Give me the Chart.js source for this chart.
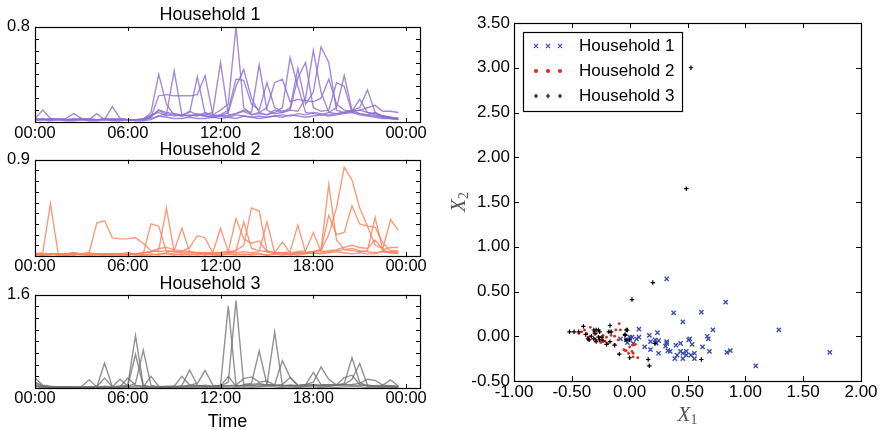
<!DOCTYPE html>
<html>
<head>
<meta charset="utf-8">
<script src="https://cdn.jsdelivr.net/npm/chart.js@4.4.1/dist/chart.umd.min.js"></script>
<style>
  html, body { margin: 0; padding: 0; background: #fff; }
  #wrap { position: relative; width: 881px; height: 430px; overflow: hidden; }
  canvas { position: absolute; }
</style>
</head>
<body>
<div id="wrap">
  <canvas id="h1" width="440" height="146" style="left:0;top:0"></canvas>
  <canvas id="h2" width="440" height="140" style="left:0;top:140px"></canvas>
  <canvas id="h3" width="440" height="158" style="left:0;top:272px"></canvas>
  <canvas id="sc" width="441" height="430" style="left:440px;top:0"></canvas>
</div>
<script>
// half-hour time slots (hours since midnight)
const hours = [0,0.5,1,1.5,2,2.5,3,3.5,4,4.5,5,5.5,6,6.5,7,7.5,8,8.5,9,9.5,10,10.5,11,11.5,
               12,12.5,13,13.5,14,14.5,15,15.5,16,16.5,17,17.5,18,18.5,19,19.5,20,20.5,21,21.5,22,22.5,23,23.5];

// Household 1 daily profiles
const h1a = [.03,.10,.03,.02,.03,.07,.03,.02,.07,.02,.13,.03,.02,.02,.02,.08,.40,.15,.06,.05,.06,.05,.08,.06,.10,.15,.80,.12,.06,.07,.06,.08,.12,.54,.30,.08,.07,.06,.08,.12,.39,.10,.07,.06,.05,.04,.03,.03];
const h1b = [.02,.02,.03,.02,.02,.02,.03,.02,.02,.03,.02,.02,.02,.02,.03,.05,.10,.06,.43,.06,.05,.07,.06,.08,.50,.06,.07,.10,.08,.48,.10,.07,.08,.10,.09,.20,.60,.25,.08,.07,.08,.10,.12,.27,.08,.05,.04,.03];
const h1c = [.03,.02,.02,.03,.02,.02,.02,.03,.02,.02,.02,.03,.02,.02,.02,.04,.22,.23,.22,.22,.22,.23,.39,.06,.05,.08,.30,.44,.20,.08,.06,.10,.08,.12,.45,.15,.25,.63,.50,.10,.08,.09,.19,.08,.06,.05,.03,.03];
const h1d = [.02,.03,.02,.02,.02,.03,.02,.02,.02,.02,.03,.02,.02,.02,.02,.06,.08,.05,.07,.06,.08,.38,.07,.05,.06,.10,.36,.35,.15,.10,.33,.12,.09,.10,.37,.50,.12,.09,.10,.33,.30,.08,.07,.06,.08,.04,.03,.02];
const h1e = [.02,.02,.02,.02,.02,.02,.02,.02,.02,.02,.02,.02,.02,.02,.02,.03,.05,.07,.05,.06,.05,.06,.05,.04,.06,.05,.07,.09,.06,.08,.12,.33,.36,.17,.19,.18,.17,.20,.36,.15,.10,.09,.10,.12,.14,.09,.09,.08];
const h1f = [.02,.02,.02,.02,.02,.02,.02,.02,.02,.02,.02,.02,.02,.02,.02,.04,.10,.08,.07,.05,.09,.06,.05,.04,.05,.04,.06,.05,.04,.05,.04,.05,.06,.05,.07,.06,.08,.07,.06,.07,.08,.09,.10,.08,.07,.05,.04,.03];
const h1g = [.01,.02,.01,.02,.01,.01,.02,.01,.01,.02,.01,.01,.02,.01,.01,.02,.05,.04,.03,.03,.04,.03,.03,.04,.03,.04,.03,.05,.04,.03,.04,.05,.04,.06,.05,.04,.05,.06,.05,.06,.07,.08,.06,.05,.04,.03,.03,.02];

// Household 2 daily profiles
const h2a = [.02,.03,.49,.02,.02,.03,.02,.02,.02,.02,.02,.02,.02,.02,.03,.04,.05,.45,.04,.03,.03,.03,.02,.02,.03,.03,.05,.10,.45,.42,.05,.03,.03,.02,.03,.03,.04,.06,.67,.15,.06,.05,.04,.05,.36,.05,.04,.04];
const h2b = [.02,.02,.02,.02,.02,.03,.02,.03,.31,.33,.17,.16,.16,.17,.12,.05,.04,.05,.04,.04,.08,.19,.17,.03,.03,.04,.03,.04,.03,.04,.32,.03,.03,.02,.03,.03,.04,.05,.20,.45,.83,.71,.45,.28,.27,.12,.05,.05];
const h2c = [.01,.02,.02,.01,.02,.01,.02,.01,.02,.02,.01,.02,.01,.02,.02,.30,.28,.04,.05,.26,.04,.03,.03,.02,.03,.04,.35,.16,.12,.14,.04,.03,.03,.04,.29,.03,.04,.06,.38,.20,.22,.47,.30,.28,.10,.07,.34,.24];
const h2d = [.02,.01,.02,.02,.01,.02,.02,.03,.02,.02,.02,.02,.03,.02,.03,.04,.07,.08,.06,.05,.04,.03,.03,.03,.26,.04,.05,.32,.07,.05,.04,.03,.13,.03,.04,.05,.22,.04,.05,.06,.08,.10,.08,.07,.15,.06,.08,.08];
const h2e = [.01,.01,.02,.01,.01,.01,.02,.01,.01,.01,.01,.01,.02,.01,.01,.01,.02,.02,.01,.02,.01,.02,.01,.02,.01,.02,.02,.01,.02,.02,.01,.02,.02,.01,.02,.03,.02,.03,.04,.05,.06,.07,.05,.04,.03,.04,.03,.03];
const h2f = [.02,.01,.01,.02,.01,.02,.01,.01,.02,.01,.02,.01,.01,.02,.01,.02,.01,.03,.02,.01,.02,.01,.02,.01,.01,.02,.01,.02,.01,.02,.01,.02,.01,.02,.01,.02,.03,.02,.03,.04,.03,.02,.03,.02,.02,.05,.03,.02];

// Household 3 daily profiles
const h3a = [.17,.05,.03,.02,.02,.02,.01,.01,.02,.43,.02,.02,.03,.58,.03,.02,.02,.01,.02,.02,.03,.02,.02,.03,.05,1.41,.05,.03,.04,.03,.05,.96,.05,.03,.02,.03,.04,.03,.03,.05,.08,.52,.10,.03,.02,.02,.02,.02];
const h3b = [.08,.03,.02,.02,.02,.01,.02,.14,.02,.03,.02,.03,.05,.90,.05,.02,.02,.02,.02,.04,.31,.05,.03,.02,.03,.10,1.50,.06,.08,.64,.06,.05,.04,.05,.04,.06,.10,.36,.15,.05,.06,.15,.42,.05,.03,.02,.03,.02];
const h3c = [.05,.02,.02,.01,.02,.01,.01,.02,.02,.17,.02,.15,.03,.08,.65,.05,.02,.02,.02,.03,.05,.08,.30,.05,.03,.20,.03,.05,.06,.08,.05,.06,.47,.18,.04,.05,.27,.06,.05,.06,.05,.06,.08,.15,.13,.05,.04,.03];
const h3d = [.03,.02,.02,.02,.02,.02,.01,.02,.02,.02,.01,.02,.17,.05,.02,.20,.03,.02,.03,.20,.05,.04,.03,.02,.03,.04,.05,.16,.19,.10,.12,.05,.06,.18,.05,.04,.06,.05,.06,.05,.18,.22,.06,.04,.04,.05,.14,.03];
const h3e = [.10,.04,.02,.02,.02,.01,.02,.02,.01,.02,.02,.03,.02,.04,.03,.02,.02,.03,.03,.02,.04,.03,.05,.03,.02,.04,.03,.05,.04,.06,.05,.04,.03,.05,.04,.06,.05,.04,.05,.04,.06,.05,.04,.05,.03,.04,.03,.02];
const h3f = [.02,.01,.01,.01,.01,.01,.01,.01,.01,.01,.01,.01,.01,.02,.01,.01,.01,.01,.02,.01,.01,.02,.01,.02,.01,.02,.01,.02,.01,.02,.03,.02,.01,.02,.01,.02,.02,.01,.02,.01,.02,.03,.02,.01,.02,.01,.02,.01];

// scatter (X1, X2) per household
const hh1X = [0.32,0.38,0.46,0.62,0.83,0.72,0.67,0.68,1.29,1.73,1.09,0.84,0.87,0.69,0.63,0.52,0.51,0.54,0.56,0.56,0.53,0.49,0.49,0.46,0.46,0.44,0.44,0.40,0.41,0.39,0.35,0.33,0.32,0.32,0.31,0.25,0.24,0.25,0.23,0.22,0.18,0.18,0.17,0.13,0.08,0.08,0.06,0.02,0.00,0.03,-0.02,-0.08,-0.03];
const hh1Y = [0.64,0.26,0.16,0.27,0.38,0.07,0.00,-0.03,0.07,-0.18,-0.33,-0.18,-0.16,-0.17,-0.12,-0.03,-0.04,-0.09,-0.19,-0.25,-0.21,-0.21,-0.17,-0.19,-0.25,-0.17,-0.08,-0.10,-0.21,-0.25,-0.17,-0.16,-0.06,-0.08,-0.11,-0.19,0.04,-0.05,-0.08,-0.04,-0.06,-0.15,0.01,-0.12,0.08,-0.01,-0.03,-0.01,-0.01,-0.08,-0.07,-0.03,-0.04];
const hh2X = [-0.415,-0.39,-0.37,-0.34,-0.34,-0.31,-0.30,-0.29,-0.26,-0.24,-0.23,-0.25,-0.21,-0.20,-0.17,-0.16,-0.13,-0.12,-0.09,-0.08,-0.10,-0.13,-0.05,-0.03,0.02,0.03,0.07,0.03,0.00,0.05,-0.19,-0.29,-0.36,-0.04,-0.01,0.03,-0.44];
const hh2Y = [0.05,0.07,0.03,0.10,0.00,0.05,-0.03,0.03,-0.01,-0.04,0.01,-0.07,-0.06,-0.01,0.05,0.01,0.00,0.07,0.14,0.07,-0.04,-0.09,-0.15,-0.16,-0.17,-0.23,-0.24,-0.10,-0.12,-0.09,-0.08,-0.04,-0.01,-0.16,-0.19,-0.19,0.03];
const hh3X = [0.53,0.49,0.20,0.02,0.62,0.17,0.16,0.00,-0.09,0.22,-0.02,-0.04,-0.52,-0.48,-0.44,-0.40,-0.38,-0.36,-0.31,-0.30,-0.29,-0.27,-0.26,-0.27,-0.26,-0.29,-0.24,-0.23,-0.20,-0.17,-0.18,-0.16,-0.13,-0.17,-0.03,-0.04,-0.03,0.00,-0.33,-0.35,-0.31];
const hh3Y = [3.00,1.65,0.60,0.41,-0.26,-0.33,-0.26,-0.24,-0.20,-0.08,0.07,0.02,0.05,0.05,0.05,0.11,0.02,-0.03,0.07,0.03,0.07,0.07,0.05,-0.01,-0.04,-0.06,-0.01,-0.05,-0.09,0.12,0.05,0.05,-0.10,-0.06,0.07,0.01,-0.04,-0.04,0.00,-0.04,-0.03];

const legendNames = ['Household 1', 'Household 2', 'Household 3'];

Chart.defaults.font.family = '"Liberation Sans", Arial, Helvetica, sans-serif';
Chart.defaults.color = '#000';

// matplotlib-like frame with inward ticks on all four sides
const boxTicks = {
  id: 'boxTicks',
  afterDraw(chart, args, opts) {
    const {ctx, chartArea: a, scales} = chart;
    const L = opts.len || 4;
    ctx.save();
    ctx.strokeStyle = '#000';
    ctx.lineWidth = 1;
    ctx.beginPath();
    scales.x.ticks.forEach(t => {
      const p = Math.round(scales.x.getPixelForValue(t.value)) + 0.5;
      ctx.moveTo(p, a.bottom); ctx.lineTo(p, a.bottom - L);
      ctx.moveTo(p, a.top); ctx.lineTo(p, a.top + L);
    });
    scales.y.ticks.forEach(t => {
      const p = Math.round(scales.y.getPixelForValue(t.value)) + 0.5;
      ctx.moveTo(a.left, p); ctx.lineTo(a.left + L, p);
      ctx.moveTo(a.right, p); ctx.lineTo(a.right - L, p);
    });
    ctx.stroke();
    ctx.lineWidth = 1.2;
    ctx.strokeRect(Math.round(a.left) + 0.5, Math.round(a.top) + 0.5, Math.round(a.width), Math.round(a.height));
    ctx.restore();
  }
};

// extra text: "Time" under bottom panel
const timeLabel = {
  id: 'timeLabel',
  afterDraw(chart) {
    const {ctx, chartArea: a} = chart;
    ctx.save();
    ctx.fillStyle = '#000';
    ctx.font = '18px "Liberation Sans", Arial, sans-serif';
    ctx.textAlign = 'center';
    ctx.textBaseline = 'alphabetic';
    ctx.fillText('Time', (a.left + a.right) / 2, 155);
    ctx.restore();
  }
};

function hhmm(v) {
  const h = Math.round(v) % 24;
  return (h < 10 ? '0' : '') + h + ':00';
}

function houseChart(id, title, days, color, yMax, yStep, titlePad, xHeight, xPad, extra) {
  return new Chart(document.getElementById(id), {
    type: 'line',
    data: {
      datasets: days.map(d => ({
        data: hours.map((h, i) => ({x: h, y: d[i]})),
        borderColor: color,
        borderWidth: 1.4,
        pointRadius: 0,
        tension: 0,
        fill: false
      }))
    },
    options: {
      responsive: false,
      animation: false,
      events: [],
      layout: {padding: {left: 0, right: 20, top: 0, bottom: 0}},
      plugins: {
        legend: {display: false},
        tooltip: {enabled: false},
        title: {display: true, text: title, color: '#000', font: {size: 18, weight: 'normal', lineHeight: 1.1}, padding: titlePad},
        boxTicks: {len: 4}
      },
      scales: {
        x: {
          type: 'linear', min: 0, max: 24.9,
          grid: {display: false, drawTicks: false}, border: {display: false},
          ticks: {stepSize: 6, includeBounds: false, autoSkip: false, maxRotation: 0, padding: xPad,
                  color: '#000', font: {size: 16.5}, callback: v => hhmm(v)},
          afterFit(s) { s.height = xHeight; s.paddingLeft = 0; s.paddingRight = 0; }
        },
        y: {
          min: 0, max: yMax,
          grid: {display: false, drawTicks: false}, border: {display: false},
          ticks: {stepSize: yStep, autoSkip: false, padding: 5, color: '#000', font: {size: 16.5},
                  callback: v => Math.abs(v - yMax) < 1e-6 ? String(yMax) : ''},
          afterFit(s) { s.width = 35; s.paddingTop = 0; s.paddingBottom = 0; }
        }
      }
    },
    plugins: [boxTicks].concat(extra || [])
  });
}

houseChart('h1', 'Household 1', [h1a, h1b, h1c, h1d, h1e, h1f, h1g], 'rgba(140,110,210,0.8)', 0.8, 0.1, {top: 5, bottom: 2}, 24, 2);
houseChart('h2', 'Household 2', [h2a, h2b, h2c, h2d, h2e, h2f], 'rgba(250,130,90,0.8)', 0.9, 0.1, {top: 0, bottom: 0}, 24, 1);
houseChart('h3', 'Household 3', [h3a, h3b, h3c, h3d, h3e, h3f], 'rgba(110,110,110,0.75)', 1.6, 0.2, {top: 2, bottom: 1}, 42, 1, [timeLabel]);

// scatter
const markers = [
  {style: 'crossRot', radius: 3, color: '#3c4fb4', width: 1.4},
  {style: 'circle', radius: 1.4, color: '#e5261f', width: 0},
  {style: 'cross', radius: 2.2, color: '#000', width: 1.2}
];

function pts(xs, ys) { return xs.map((x, i) => ({x: x, y: ys[i]})); }

function mathLabel(ctx, cx, baseY, sub) {
  ctx.font = 'italic 21px "Liberation Serif", "DejaVu Serif", serif';
  const wX = ctx.measureText('X').width;
  ctx.font = '14px "Liberation Serif", "DejaVu Serif", serif';
  const wS = ctx.measureText(sub).width;
  const x0 = cx - (wX + wS) / 2;
  ctx.textAlign = 'left';
  ctx.textBaseline = 'alphabetic';
  ctx.font = 'italic 21px "Liberation Serif", "DejaVu Serif", serif';
  ctx.fillText('X', x0, baseY);
  ctx.font = '14px "Liberation Serif", "DejaVu Serif", serif';
  ctx.fillText(sub, x0 + wX, baseY + 3);
}

const scatterDeco = {
  id: 'scatterDeco',
  afterDraw(chart) {
    const {ctx, chartArea: a} = chart;
    ctx.save();
    ctx.fillStyle = '#555';
    mathLabel(ctx, (a.left + a.right) / 2, 421, '1');
    ctx.translate(25, (a.top + a.bottom) / 2);
    ctx.rotate(-Math.PI / 2);
    mathLabel(ctx, 0, 0, '2');
    ctx.restore();

    // legend box with three sample markers per entry
    const bx = a.left + 9, by = a.top + 9;
    ctx.save();
    ctx.fillStyle = '#fff';
    ctx.fillRect(bx, by, 159, 79);
    ctx.strokeStyle = '#000';
    ctx.lineWidth = 1.2;
    ctx.strokeRect(bx + 0.5, by + 0.5, 159, 79);
    legendNames.forEach((name, i) => {
      const m = markers[i];
      const y = by + 14 + i * 25;
      [13, 25, 37].forEach(dx => {
        ctx.strokeStyle = m.color;
        ctx.fillStyle = m.color;
        Chart.helpers.drawPoint(ctx, {pointStyle: m.style, radius: m.radius, borderWidth: m.width || 1, rotation: 0}, bx + dx, y);
      });
      ctx.fillStyle = '#000';
      ctx.font = '17px "Liberation Sans", Arial, sans-serif';
      ctx.textAlign = 'left';
      ctx.textBaseline = 'middle';
      ctx.fillText(name, bx + 56, y);
    });
    ctx.restore();
  }
};

new Chart(document.getElementById('sc'), {
  type: 'scatter',
  data: {
    datasets: [[hh1X, hh1Y], [hh2X, hh2Y], [hh3X, hh3Y]].map((xy, i) => ({
      label: legendNames[i],
      data: pts(xy[0], xy[1]),
      pointStyle: markers[i].style,
      pointRadius: markers[i].radius,
      pointBorderWidth: markers[i].width,
      pointBorderColor: markers[i].color,
      pointBackgroundColor: markers[i].color,
      order: 2 - i
    }))
  },
  options: {
    responsive: false,
    animation: false,
    events: [],
    layout: {padding: {left: 0, right: 20, top: 23, bottom: 0}},
    plugins: {legend: {display: false}, tooltip: {enabled: false}, boxTicks: {len: 5}},
    scales: {
      x: {
        type: 'linear', min: -1, max: 2,
        grid: {display: false, drawTicks: false}, border: {display: false},
        ticks: {stepSize: 0.5, autoSkip: false, maxRotation: 0, padding: 1, color: '#000', font: {size: 17},
                callback: v => v.toFixed(2)},
        afterFit(s) { s.height = 49; s.paddingLeft = 0; s.paddingRight = 0; }
      },
      y: {
        min: -0.5, max: 3.5,
        grid: {display: false, drawTicks: false}, border: {display: false},
        ticks: {stepSize: 0.5, autoSkip: false, padding: 4, color: '#000', font: {size: 17},
                callback: v => v.toFixed(2)},
        afterFit(s) { s.width = 74; s.paddingTop = 0; s.paddingBottom = 0; }
      }
    }
  },
  plugins: [boxTicks, scatterDeco]
});
</script>
</body>
</html>
